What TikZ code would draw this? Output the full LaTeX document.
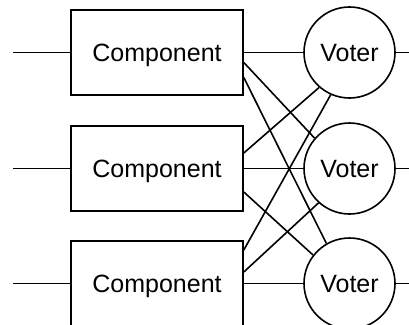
\documentclass[tikz,border=0pt]{standalone}
\usepackage{fontspec}
\setmainfont{Liberation Sans}
\begin{document}
\begin{tikzpicture}[x=1pt,y=-1pt,
  lbl/.style={font=\fontsize{25}{30}\selectfont,text depth=0pt},
  comp/.style={lbl,draw,line width=1.6pt,minimum width=172pt,minimum height=85pt,inner sep=0pt},
  voter/.style={lbl,draw,circle,line width=1.6pt,minimum size=91pt,inner sep=0pt},
  wire/.style={line width=1.6pt}]
\useasboundingbox (0,0) rectangle (409,324);
\clip (0,0) rectangle (409,324);
% components
\node[comp] (c1) at (157,52.5) {Component};
\node[comp] (c2) at (157,168.5) {Component};
\node[comp] (c3) at (157,283.5) {Component};
% voters
\node[voter] (v1) at (349.5,52.5) {Voter};
\node[voter] (v2) at (349.5,168.5) {Voter};
\node[voter] (v3) at (349.5,283.5) {Voter};
% inputs and outputs
\coordinate (i1) at (13,52.5);
\coordinate (i2) at (13,168.5);
\coordinate (i3) at (13,283.5);
\coordinate (o1) at (409,52.5);
\coordinate (o2) at (409,168.5);
\coordinate (o3) at (409,283.5);
\draw[wire] (i1) -- (c1.west);
\draw[wire] (i2) -- (c2.west);
\draw[wire] (i3) -- (c3.west);
\draw[wire] (v1.east) -- (o1);
\draw[wire] (v2.east) -- (o2);
\draw[wire] (v3.east) -- (o3);
% straight connections
\draw[wire] (c1.east) -- (v1.west);
\draw[wire] (c2.east) -- (v2.west);
\draw[wire] (c3.east) -- (v3.west);
% cross connections
\draw[wire] ([yshift=-10pt]c1.east) -- (v2.139);
\draw[wire] ([yshift=-25pt]c1.east) -- (v3.120);
\draw[wire] ([yshift=15.5pt]c2.east) -- (v1.229);
\draw[wire] ([yshift=-23.5pt]c2.east) -- (v3.142);
\draw[wire] ([yshift=33.5pt]c3.east) -- (v1.246);
\draw[wire] ([yshift=11.5pt]c3.east) -- (v2.228);
\end{tikzpicture}
\end{document}
